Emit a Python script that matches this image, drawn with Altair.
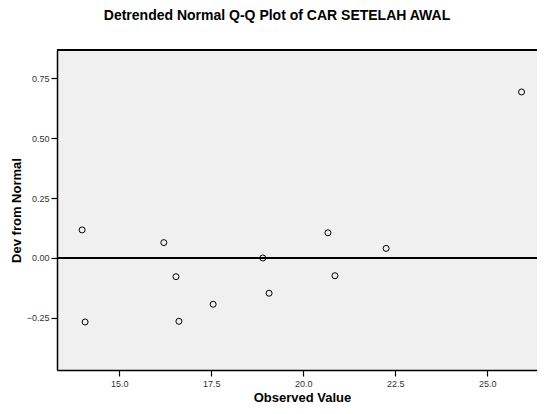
import altair as alt
import pandas as pd

observed = [13.99, 14.07, 16.21, 16.54, 16.62, 17.55, 18.90, 19.07, 20.67, 20.86, 22.25, 25.93]
deviation = [0.117, -0.267, 0.064, -0.078, -0.264, -0.193, 0.000, -0.147, 0.105, -0.074, 0.040, 0.692]
x_ticks = [15.0, 17.5, 20.0, 22.5, 25.0]
y_ticks = [-0.25, 0.0, 0.25, 0.50, 0.75]
x_domain = [13.307, 26.35]
y_domain = [-0.467, 0.867]

df = pd.DataFrame({"observed": observed, "deviation": deviation})
FONT = "Liberation Sans"

base = alt.Chart(df)

points = base.mark_point(shape="circle", filled=False, color="#000000", size=36, strokeWidth=1, opacity=1).encode(
    x=alt.X("observed:Q", scale=alt.Scale(domain=x_domain, nice=False, zero=False),
            axis=alt.Axis(values=x_ticks, format=".1f", title="Observed Value", grid=False, titleX=245)),
    y=alt.Y("deviation:Q", scale=alt.Scale(domain=y_domain, nice=False, zero=False),
            axis=alt.Axis(values=y_ticks, format=".2f", title="Dev from Normal", grid=False)),
)

zero_line = base.mark_rule(color="#000000", strokeWidth=1.2).encode(y=alt.datum(0))
top_frame = base.mark_rule(color="#000000", strokeWidth=1.5).encode(y=alt.value(0))

chart = alt.layer(zero_line, points, top_frame).properties(
    width=480,
    height=320,
    background="#ffffff",
    autosize=alt.AutoSizeParams(type="none"),
    padding={"left": 49, "top": 42, "right": 0, "bottom": 40},
    title=alt.TitleParams("Detrended Normal Q-Q Plot of CAR SETELAH AWAL", font=FONT, fontSize=14,
                          fontWeight="bold", color="#000000", anchor="middle", dx=-20, offset=26),
).configure_view(
    fill="#f0f0f0", stroke=None
).configure_axis(
    domainColor="#000000", domainWidth=1.5, tickColor="#000000", tickSize=6, tickWidth=1.2,
    labelFont=FONT, labelFontSize=9, labelColor="#333333",
    titleFont=FONT, titleFontWeight="bold", titleColor="#000000", titleFontSize=13,
).configure_axisY(
    titlePadding=3, labelPadding=2
).configure_axisX(
    titlePadding=3, labelPadding=3
)

chart.save("out.html", embed_options={"renderer": "svg", "actions": False})
